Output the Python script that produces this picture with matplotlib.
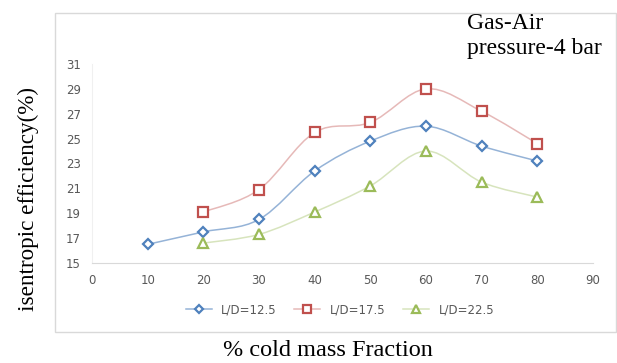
import matplotlib.pyplot as plt
from matplotlib.path import Path
from matplotlib.patches import PathPatch, Rectangle
from matplotlib.lines import Line2D
import numpy as np

# data
x_125 = [10, 20, 30, 40, 50, 60, 70, 80]
eff_125 = [16.5, 17.5, 18.5, 22.4, 24.8, 26.0, 24.4, 23.2]
x_175 = [20, 30, 40, 50, 60, 70, 80]
eff_175 = [19.1, 20.9, 25.5, 26.3, 29.0, 27.2, 24.6]
x_225 = [20, 30, 40, 50, 60, 70, 80]
eff_225 = [16.6, 17.3, 19.1, 21.2, 24.0, 21.5, 20.3]
labels = ['L/D=12.5', 'L/D=17.5', 'L/D=22.5']


def smooth_path(xs, ys):
    # excel style smoothed line as cubic bezier segments
    p = np.column_stack([xs, ys]).astype(float)
    n = len(p)
    verts = [p[0]]
    codes = [Path.MOVETO]
    for i in range(n - 1):
        p0 = p[i - 1] if i > 0 else p[i]
        p3 = p[i + 2] if i + 2 < n else p[i + 1]
        c1 = p[i] + (p[i + 1] - p0) / 6
        c2 = p[i + 1] - (p3 - p[i]) / 6
        verts += [c1, c2, p[i + 1]]
        codes += [Path.CURVE4] * 3
    return Path(verts, codes)


fig = plt.figure(figsize=(6.17, 3.63), dpi=100)
ax = fig.add_axes([92 / 617, 1 - 263 / 363, 501 / 617, 199 / 363])

# outer chart border
fig.patches.append(Rectangle((55 / 617, 1 - 332 / 363), 561 / 617, 319 / 363,
                             transform=fig.transFigure, fill=False,
                             edgecolor='#d9d9d9', lw=1))

series = [(x_125, eff_125, '#4f81bd', '#95b3d7', 'D', 5.5),
          (x_175, eff_175, '#c0504d', '#e6b9b8', 's', 7),
          (x_225, eff_225, '#9bbb59', '#d7e4bd', '^', 7)]

handles = []
for (xs, ys, col, lcol, mk, ms), lab in zip(series, labels):
    ax.add_patch(PathPatch(smooth_path(xs, ys), fill=False, edgecolor=lcol, lw=1.1))
    ax.plot(xs, ys, ls='none', marker=mk, ms=ms, mfc='white', mec=col, mew=1.6)
    handles.append(Line2D([], [], color=lcol, lw=1.1, marker=mk, ms=ms - 1,
                          mfc='white', mec=col, mew=1.6, label=lab))

ax.set_xlim(0, 90)
ax.set_ylim(15, 31)
ax.set_xticks(range(0, 91, 10))
ax.set_yticks(range(15, 32, 2))
ax.tick_params(length=0, labelsize=8.5, labelcolor='#595959', pad=8)
for s in ['top', 'right']:
    ax.spines[s].set_visible(False)
ax.spines['left'].set_color('#f0f0f0')
ax.spines['bottom'].set_color('#d9d9d9')

ax.legend(handles=handles, loc='center', bbox_to_anchor=(340 / 617, 1 - 310 / 363),
          bbox_transform=fig.transFigure, ncol=3, frameon=False, fontsize=8.5,
          labelcolor='#595959', handlelength=2.2, columnspacing=1.5)

fig.text(28 / 617, 1 - 199 / 363, 'isentropic efficiency(%)', rotation=90, ha='center',
         va='center', family='Liberation Serif', fontsize=16.7)
fig.text(328 / 617, 1 - 350 / 363, '% cold mass Fraction', ha='center', va='center',
         family='Liberation Serif', fontsize=17.5)
fig.text(467 / 617, 1 - 36 / 363, 'Gas-Air\npressure-4 bar', ha='left', va='center',
         family='Liberation Serif', fontsize=17, linespacing=1.25)

fig.savefig('out.png', dpi=100)
